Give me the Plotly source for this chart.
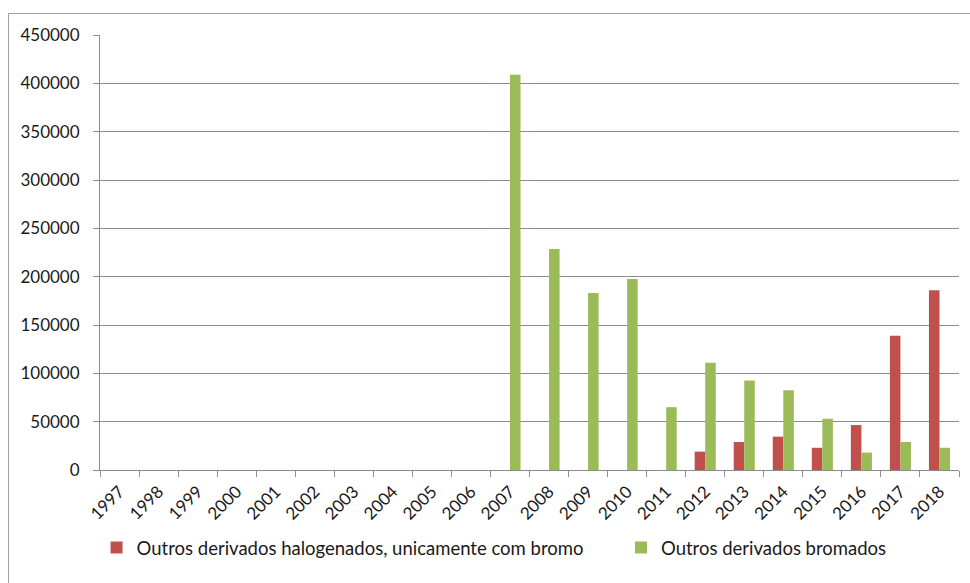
import plotly.graph_objects as go

years = [str(y) for y in range(1997, 2019)]

# Outros derivados halogenados, unicamente com bromo
halogenados = [None] * 15 + [19000, 29000, 34500, 23000, 46500, 139000, 186000]

# Outros derivados bromados
bromados = [None] * 10 + [409000, 228500, 183000, 197500, 65000,
                          111000, 92500, 82500, 53000, 18000, 29000, 23000]

y_ticks = list(range(0, 450001, 50000))

FONT = "Lato"
TXT = "#1a1a1a"
GRID = "#8c8c8c"

fig = go.Figure()
fig.add_trace(go.Bar(
    x=years, y=halogenados,
    name="Outros derivados halogenados, unicamente com bromo",
    marker=dict(color="#C0504D", line=dict(width=0)),
    legend="legend",
))
fig.add_trace(go.Bar(
    x=years, y=bromados,
    name="Outros derivados bromados",
    marker=dict(color="#9BBB59", line=dict(width=0)),
    legend="legend2",
))

legend_common = dict(
    orientation="h", xanchor="left", y=-0.179, yanchor="middle",
    font=dict(family=FONT, size=18.5, color=TXT),
    itemclick=False, itemdoubleclick=False,
    bgcolor="rgba(0,0,0,0)",
)

fig.update_layout(
    width=970, height=583,
    margin=dict(l=100, r=11, t=35, b=113),
    paper_bgcolor="white", plot_bgcolor="white",
    barmode="group", bargap=0.46, bargroupgap=0,
    font=dict(family=FONT, size=15, color=TXT),
    showlegend=True,
    legend=dict(x=-0.004, **legend_common),
    legend2=dict(x=0.6065, **legend_common),
    xaxis=dict(
        type="category", tickangle=-45, automargin=False,
        showgrid=False, showline=True, linecolor=GRID, linewidth=1,
        ticks="outside", tickson="boundaries", ticklen=6, tickcolor=GRID,
        ticklabelstandoff=4,
        tickfont=dict(family=FONT, size=17, color=TXT),
        fixedrange=True,
    ),
    yaxis=dict(
        range=[0, 450000], tickvals=y_ticks, automargin=False,
        ticktext=[str(v) for v in y_ticks],
        showgrid=True, gridcolor=GRID, gridwidth=1,
        showline=True, linecolor=GRID, linewidth=1,
        ticks="outside", ticklen=6, tickcolor=GRID,
        ticklabelstandoff=10,
        tickfont=dict(family=FONT, size=17, color=TXT),
        zeroline=False, fixedrange=True,
    ),
    shapes=[dict(
        type="rect", xref="paper", yref="paper",
        x0=-0.1065, x1=1.2, y0=-0.5, y1=1.0494,
        line=dict(color="#a0a0a0", width=1), fillcolor="rgba(0,0,0,0)",
        layer="below",
    )],
)

fig.write_html("out.html")
